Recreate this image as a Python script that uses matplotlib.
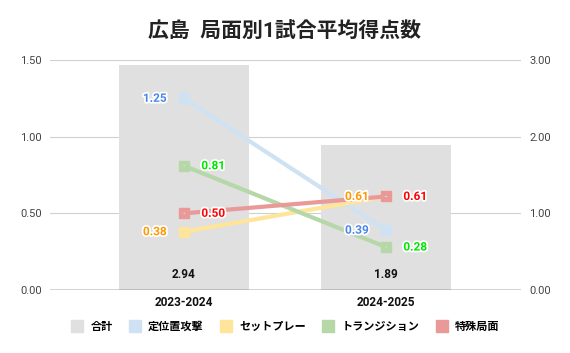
import matplotlib.pyplot as plt
import matplotlib.patheffects as pe
from matplotlib.lines import Line2D

plt.rcParams['font.family'] = ['Roboto', 'Noto Sans CJK JP', 'DejaVu Sans']

seasons = ["2023-2024", "2024-2025"]
total = [2.94, 1.89]
setplay_attack = [1.25, 0.39]   # 定位置攻撃
set_piece = [0.38, 0.61]        # セットプレー
transition = [0.81, 0.28]       # トランジション
special = [0.50, 0.61]          # 特殊局面

series = [
    ("定位置攻撃", setplay_attack, "#cfe2f3", "#4a86e8", ["left", "left"]),
    ("セットプレー", set_piece, "#ffe599", "#ff9900", ["left", "left"]),
    ("トランジション", transition, "#b6d7a8", "#00e600", ["right", "right"]),
    ("特殊局面", special, "#ea9999", "#ff0000", ["right", "right"]),
]

fig = plt.figure(figsize=(5.7, 3.53), dpi=100)
ax2 = fig.add_axes([0.0877, 0.1785, 0.8263, 0.6515])  # bars, right scale
ax = ax2.twinx()
ax.yaxis.tick_left()
ax2.yaxis.tick_right()
ax.yaxis.set_label_position("left")

x = list(range(len(seasons)))
ax2.bar(x, total, width=0.645, color="#e0e0e0", zorder=1)
for xi, v in zip(x, total):
    ax2.text(xi, 0.2, f"{v:.2f}", ha="center", va="center", fontsize=8.5,
             fontweight="bold", color="#111111")

ax2.set_ylim(0, 3)
ax2.set_yticks([0, 1, 2, 3])
ax2.set_yticklabels([f"{v:.2f}" for v in [0, 1, 2, 3]])
ax2.set_xlim(-0.663, 1.668)
ax2.set_xticks(x)
ax2.set_xticklabels(seasons, fontweight="bold", fontsize=8.5)
ax2.grid(axis="y", color="#d0d0d0", linewidth=0.8)
ax2.set_axisbelow(True)

ax.set_ylim(0, 1.5)
ax.set_yticks([0, 0.5, 1.0, 1.5])
ax.set_yticklabels([f"{v:.2f}" for v in [0, 0.5, 1.0, 1.5]])

for a in (ax, ax2):
    for s in a.spines.values():
        s.set_visible(False)
    a.tick_params(length=0, labelsize=8, colors="#444444", pad=6)
ax2.tick_params(axis="x", colors="#111111", labelsize=8.5, pad=4)
ax2.axhline(0, color="#333333", linewidth=1, zorder=2)

for name, vals, lc, tc, sides in series:
    ax.plot(x, vals, color=lc, linewidth=3, marker="s", markersize=6.5, zorder=3)
    for xi, v, side in zip(x, vals, sides):
        dx = -21 if side == "left" else 21
        ax.annotate(f"{v:.2f}", (xi, v), xytext=(dx, 0), textcoords="offset points",
                    ha="center", va="center", fontsize=8.5, fontweight="bold",
                    color=tc, zorder=5,
                    path_effects=[pe.withStroke(linewidth=2.5, foreground="white")],
                    arrowprops=dict(arrowstyle="-", color="#dddddd", lw=0.8,
                                    shrinkA=10, shrinkB=4))

fig.suptitle("広島  局面別1試合平均得点数", fontsize=15, fontweight="bold",
             y=0.94, color="#222222")

handles = [Line2D([], [], marker="s", linestyle="none", markersize=8,
                  color="#e0e0e0", label="合計")]
for name, vals, lc, tc, sides in series:
    handles.append(Line2D([], [], marker="s", linestyle="none", markersize=8,
                          color=lc, label=name))
fig.legend(handles=handles, loc="center", bbox_to_anchor=(0.5, 0.075), ncol=5,
           frameon=False, handletextpad=0.6, columnspacing=1.4,
           handlelength=1.2, prop={"weight": "bold", "size": 8})

fig.savefig("out.png", dpi=100)
